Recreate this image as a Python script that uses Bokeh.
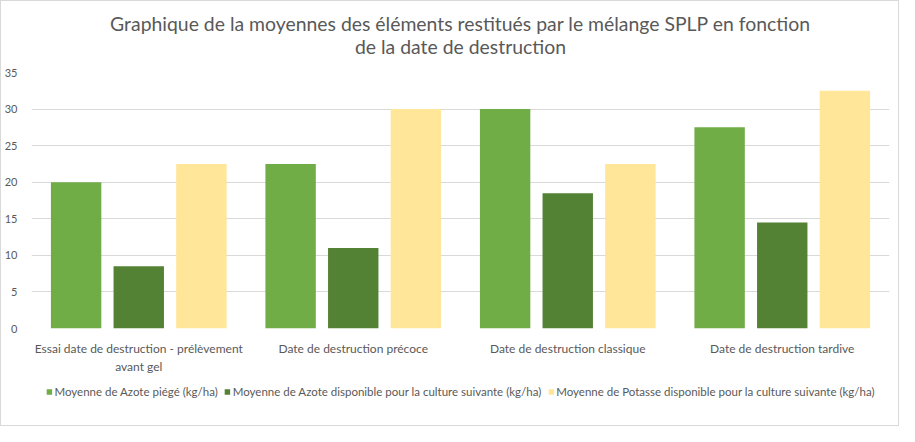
from bokeh.plotting import figure
from bokeh.layouts import column
from bokeh.models import ColumnDataSource, FactorRange, Legend, LegendItem
from bokeh.core.properties import value
from bokeh.transform import dodge
from bokeh.embed import file_html
from bokeh.resources import INLINE

categories = [
    "Essai date de destruction - prélèvement\navant gel",
    "Date de destruction précoce",
    "Date de destruction classique",
    "Date de destruction tardive",
]
azote_piege = [20, 22.5, 30, 27.5]
azote_dispo = [8.5, 11, 18.5, 14.5]
potasse_dispo = [22.5, 30, 22.5, 32.5]
series_names = [
    "Moyenne de Azote piégé (kg/ha)",
    "Moyenne de Azote disponible pour la culture suivante (kg/ha)",
    "Moyenne de Potasse disponible pour la culture suivante (kg/ha)",
]
series_colors = ["#70AD47", "#548235", "#FFE699"]
y_ticks = [0, 5, 10, 15, 20, 25, 30, 35]
title_lines = [
    "Graphique de la moyennes des éléments restitués par le mélange SPLP en fonction",
    "de la date de destruction",
]

FONT = "Lato"
TXT = "#595959"
W = 897


def bare_fig(h, yr):
    f = figure(width=W, height=h, x_range=(0, 1), y_range=yr,
               x_axis_location=None, y_axis_location=None,
               output_backend="svg", toolbar_location=None,
               min_border=0, min_border_left=0, min_border_right=0,
               min_border_top=0, min_border_bottom=0)
    f.outline_line_color = None
    f.grid.grid_line_color = None
    return f


# ---- header with the two-line title
head = bare_fig(59, (0, 59))
head.text(x=[0.5, 0.5], y=[37, 14], text=title_lines,
          text_align="center", text_baseline="middle",
          text_font=value(FONT), text_font_size="19.4px", text_color=TXT)

# ---- main bar chart
src = ColumnDataSource(dict(cat=categories, a=azote_piege, b=azote_dispo, c=potasse_dispo))

p = figure(
    x_range=FactorRange(*categories, range_padding=0),
    y_range=(0, 35),
    width=W, height=316,
    output_backend="svg", toolbar_location=None,
    min_border_left=27, min_border_right=9, min_border_top=12, min_border_bottom=45,
)
p.title.visible = False

for i, (col, color) in enumerate(zip(["a", "b", "c"], series_colors)):
    p.vbar(x=dodge("cat", (i - 1) * 0.292, range=p.x_range), top=col, width=0.235,
           source=src, fill_color=color, line_color=None)

p.outline_line_color = None
p.xgrid.grid_line_color = None
p.ygrid.grid_line_color = "#D9D9D9"
p.ygrid.grid_line_width = 1

p.yaxis.ticker = y_ticks
p.yaxis.axis_line_color = None
p.yaxis.major_tick_line_color = None
p.yaxis.minor_tick_line_color = None
p.yaxis.major_label_text_font = FONT
p.yaxis.major_label_text_font_size = "11px"
p.yaxis.major_label_text_color = TXT
p.yaxis.major_label_standoff = 8

p.xaxis.axis_line_color = None
p.xaxis.major_tick_line_color = None
p.xaxis.minor_tick_line_color = None
p.xaxis.major_label_text_font = FONT
p.xaxis.major_label_text_font_size = "12px"
p.xaxis.major_label_text_color = TXT
p.xaxis.major_label_standoff = 6

# ---- legend strip (zero-height swatch renderers, only used by the legend)
leg = bare_fig(49, (0, 1))
leg_renderers = [leg.vbar(x=[0.5], top=[0], bottom=[0], width=0.01,
                          fill_color=c, line_color=None)
                 for c in series_colors]
legend = Legend(
    items=[LegendItem(label=n, renderers=[r]) for n, r in zip(series_names, leg_renderers)],
    orientation="horizontal",
    location="top",
    label_text_font=FONT,
    label_text_font_size="11.5px",
    label_text_color=TXT,
    glyph_width=7, glyph_height=7,
    label_standoff=2,
    spacing=6,
    border_line_color=None,
    background_fill_alpha=0,
    margin=9,
    padding=2,
)
leg.add_layout(legend, "center")

layout = column(head, p, leg, spacing=0)
layout.styles = {"border": "1px solid #D9D9D9"}

open("out.html", "w").write(file_html(layout, INLINE))
